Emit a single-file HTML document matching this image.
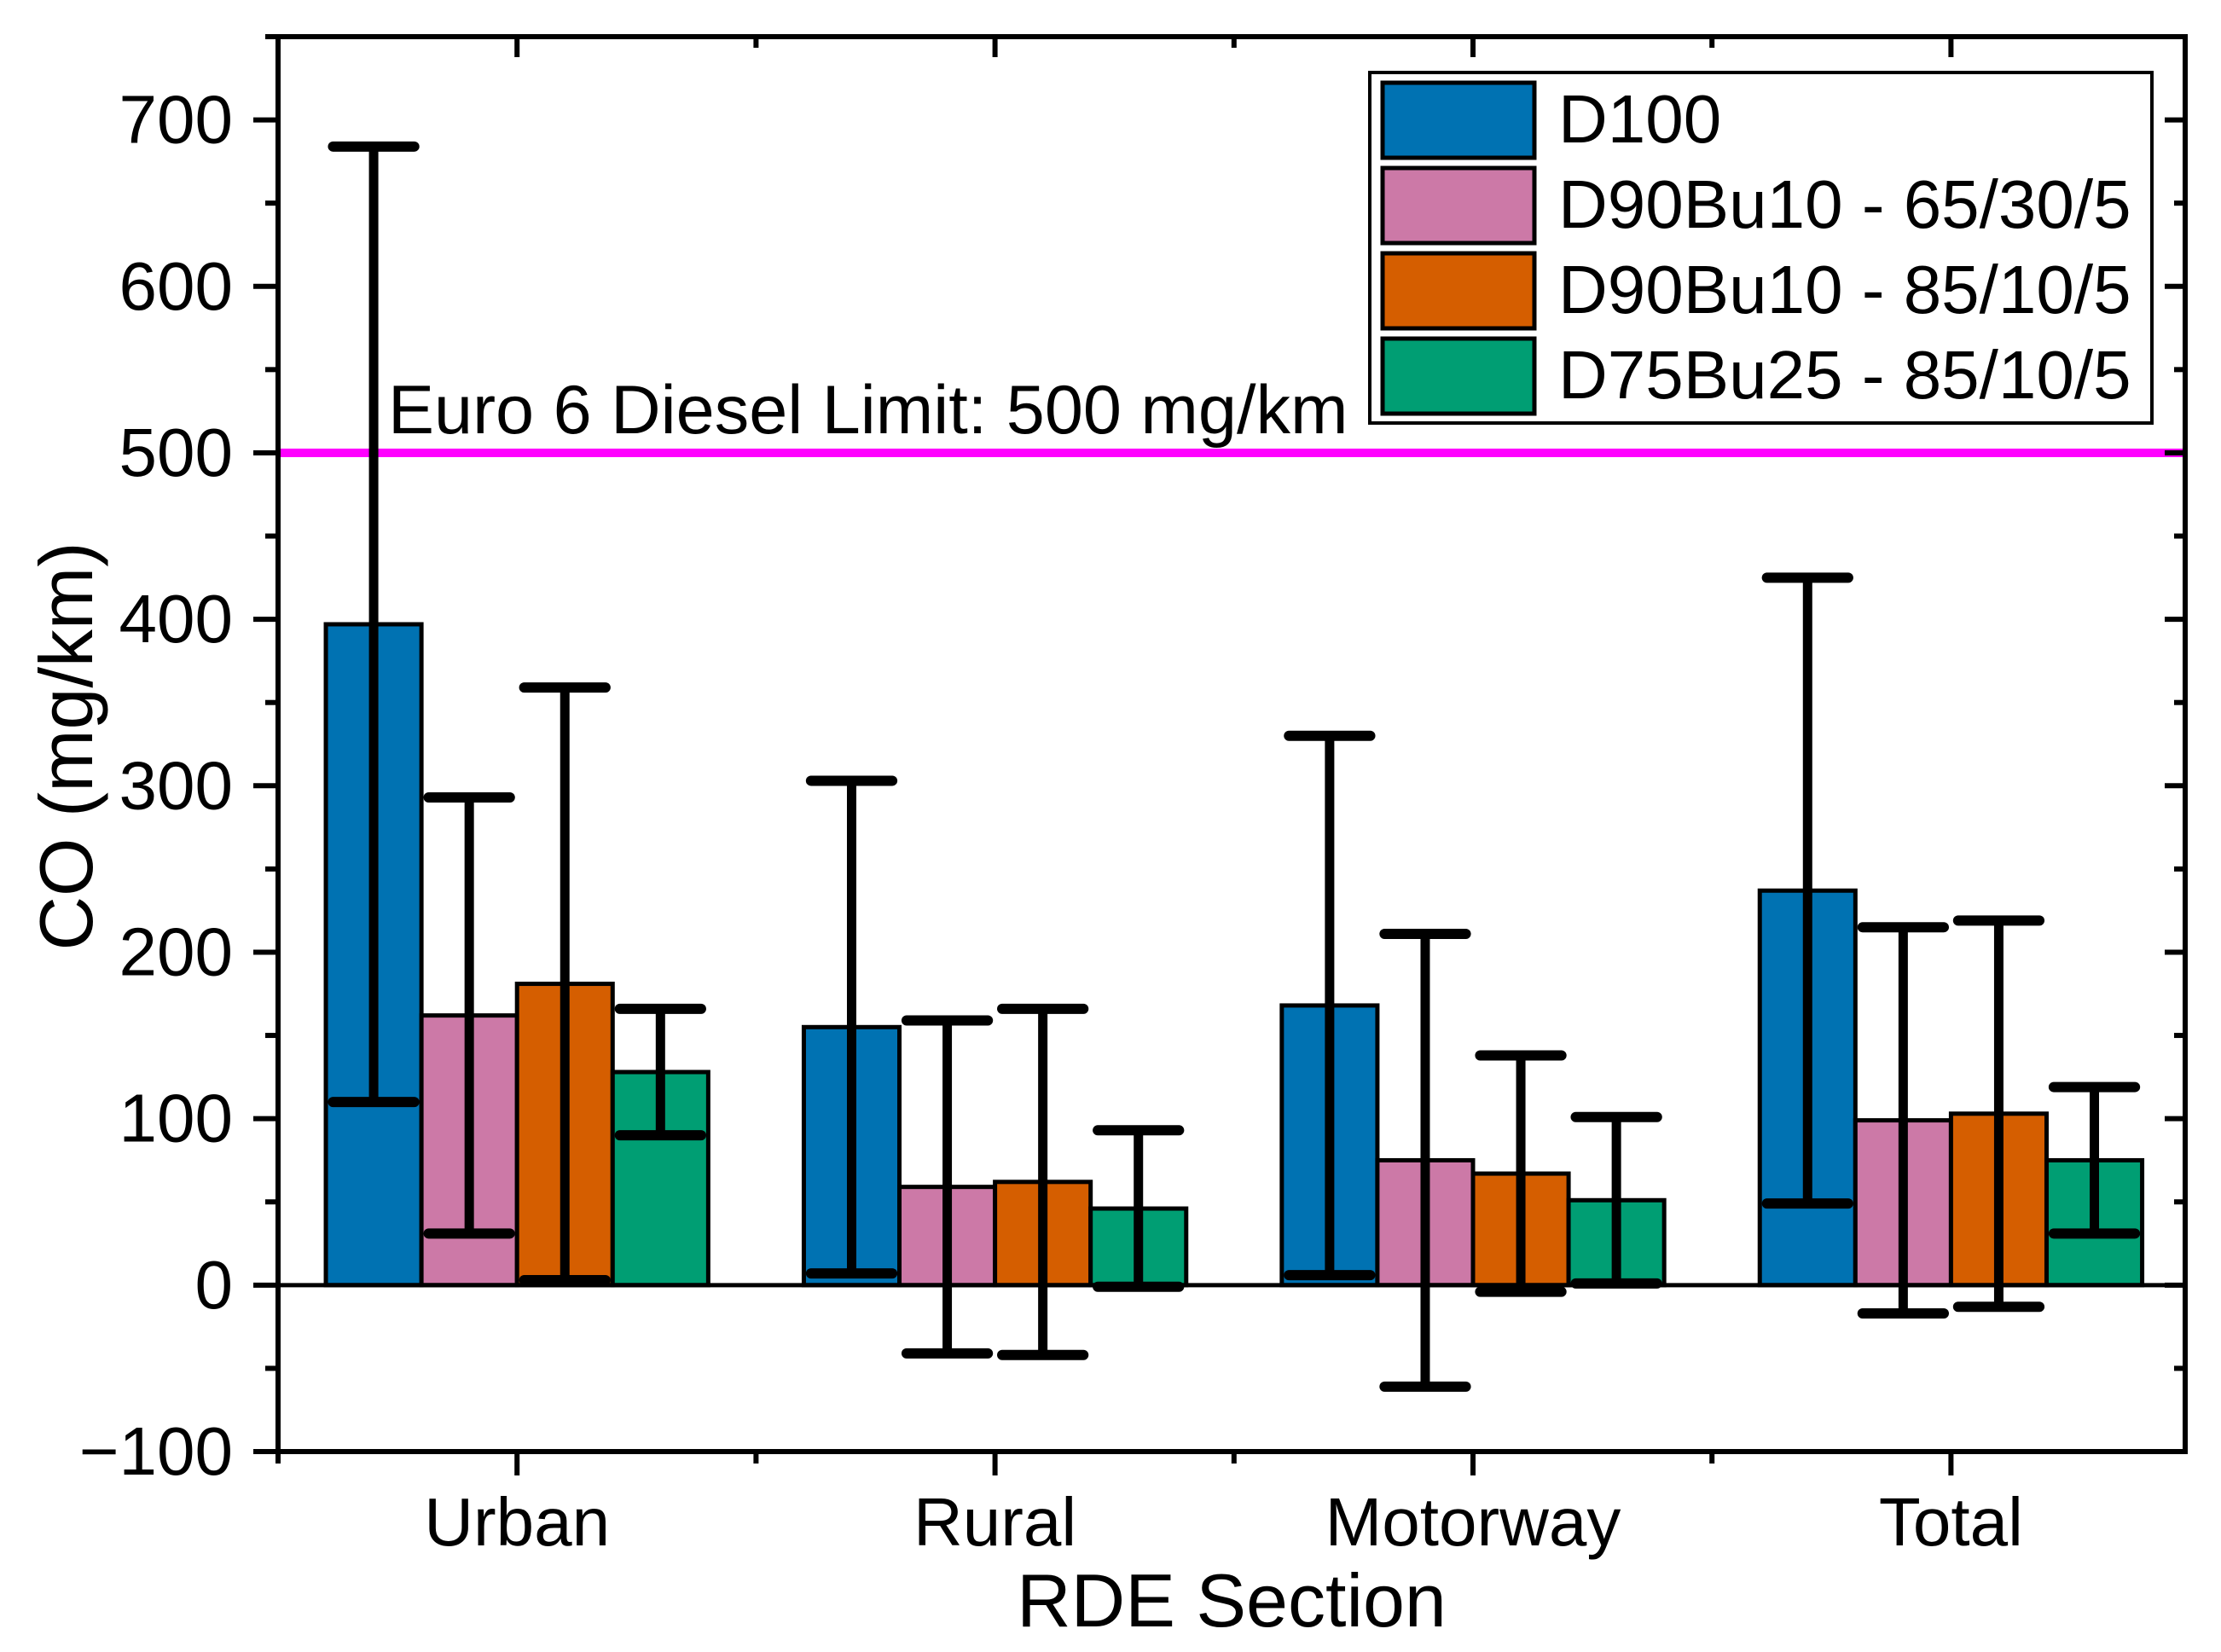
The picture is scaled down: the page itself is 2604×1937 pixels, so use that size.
<!DOCTYPE html>
<html><head><meta charset="utf-8"><style>
html,body{margin:0;padding:0;background:#fff}
svg{display:block;font-family:"Liberation Sans",Arial,sans-serif}
</style></head><body>
<svg id="chart" width="2604" height="1937" viewBox="0 0 2604 1937" xmlns="http://www.w3.org/2000/svg">
<rect width="2604" height="1937" fill="#fff"/>
<g id="bars"></g>
<g id="limit"></g>
<g id="errs"></g>
<g id="axes"></g>
<g id="legend"></g>
</svg>
<script>
const categories = ["Urban","Rural","Motorway","Total"];
const seriesNames = ["D100","D90Bu10 - 65/30/5","D90Bu10 - 85/10/5","D75Bu25 - 85/10/5"];
const seriesColors = ["#0072b2","#cc79a7","#d55e00","#009e73"];
const d100 = [397,155,168,237];
const d90a = [162,59,75,99];
const d90b = [181,62,67,103];
const d75 = [128,46,51,75];
const d100Err = [287,148,162,188];
const d90aErr = [131,100,136,116];
const d90bErr = [178,104,71,116];
const d75Err = [38,47,50,44];
const yTicks = [-100,0,100,200,300,400,500,600,700];
const limitValue = 500;

const values = [d100,d90a,d90b,d75];
const errors = [d100Err,d90aErr,d90bErr,d75Err];
const NS = "http://www.w3.org/2000/svg";
const L=326,R=2562,T=43,B=1702;
const yMin=-100,yMax=750,xMin=0.5,xMax=4.49;
function ys(v){return B-(v-yMin)/(yMax-yMin)*(B-T);}
function xs(v){return L+(v-xMin)/(xMax-xMin)*(R-L);}
function mk(tag,attrs,parent){const e=document.createElementNS(NS,tag);for(const k in attrs)e.setAttribute(k,attrs[k]);parent.appendChild(e);return e;}
const gb=document.getElementById('bars'),ge=document.getElementById('errs'),ga=document.getElementById('axes'),gl=document.getElementById('legend'),glim=document.getElementById('limit');
const bw=0.2;
for(let s=0;s<4;s++){
  for(let c=0;c<4;c++){
    const cx=(c+1)+(s-1.5)*bw;
    const v=values[s][c];
    const x0=xs(cx-bw/2),x1=xs(cx+bw/2);
    const r=mk('rect',{x:x0,y:Math.min(ys(v),ys(0)),width:x1-x0,height:Math.abs(ys(0)-ys(v)),fill:seriesColors[s],stroke:'#000','stroke-width':5},gb);
    
    
    const e=errors[s][c],px=xs(cx),hw=(xs(1)-xs(0))*0.085;
    const g=mk('g',{stroke:'#000','stroke-width':12,'stroke-linecap':'round'},ge);
    
    
    mk('line',{x1:px,x2:px,y1:ys(v+e),y2:ys(v-e),'stroke-linecap':'butt','stroke-width':11},g);
    mk('line',{x1:px-hw,x2:px+hw,y1:ys(v+e),y2:ys(v+e)},g);
    mk('line',{x1:px-hw,x2:px+hw,y1:ys(v-e),y2:ys(v-e)},g);
  }
}
const lim=mk('line',{x1:L,x2:R,y1:ys(limitValue),y2:ys(limitValue),stroke:'#ff00ff','stroke-width':10},glim);


const lt=mk('text',{x:455,y:508,'font-size':81},glim);lt.textContent='Euro 6 Diesel Limit: 500 mg/km';


const zl=mk('line',{x1:L,x2:R,y1:ys(0),y2:ys(0),stroke:'#000','stroke-width':5},ga);


const fr=mk('rect',{x:L,y:T,width:R-L,height:B-T,fill:'none',stroke:'#000','stroke-width':6},ga);


for(let v=-100;v<=750;v+=50){
  const major=(v%100===0);const y=ys(v);
  mk('line',{x1:L-(major?29:15),x2:L,y1:y,y2:y,stroke:'#000','stroke-width':6},ga);
  mk('line',{x1:R,x2:R-(major?24:13),y1:y,y2:y,stroke:'#000','stroke-width':6},ga);
}
yTicks.forEach(v=>{
  const t=mk('text',{x:273,y:ys(v)+27,'font-size':80,'text-anchor':'end'},ga);
  t.textContent=(v<0?'\u2212'+(-v):String(v));
  
  
});
for(let i=0;i<4;i++){
  const x=xs(i+1);
  mk('line',{x1:x,x2:x,y1:B,y2:B+28,stroke:'#000','stroke-width':6},ga);
  mk('line',{x1:x,x2:x,y1:T,y2:T+24,stroke:'#000','stroke-width':6},ga);
  const xm=xs(i+0.5);
  mk('line',{x1:xm,x2:xm,y1:B,y2:B+14,stroke:'#000','stroke-width':6},ga);
  mk('line',{x1:xm,x2:xm,y1:T,y2:T+13,stroke:'#000','stroke-width':6},ga);
  const t=mk('text',{x:x,y:1812,'font-size':80,'text-anchor':'middle'},ga);t.textContent=categories[i];
  
  
}
const xt=mk('text',{x:(L+R)/2,y:1907,'font-size':88,'text-anchor':'middle'},ga);xt.textContent='RDE Section';


const yt=mk('text',{x:0,y:0,'font-size':88,'text-anchor':'middle',transform:'translate(108,875) rotate(-90)'},ga);yt.textContent='CO (mg/km)';


const lb=mk('rect',{x:1606,y:85,width:917,height:411,fill:'#fff',stroke:'#000','stroke-width':4},gl);


for(let s=0;s<4;s++){
  const g=mk('g',{},gl);
  
  
  const y0=95+s*100;
  mk('rect',{x:1621,y:y0+2,width:178,height:88,fill:seriesColors[s],stroke:'#000','stroke-width':5},g);
  const t=mk('text',{x:1827,y:y0+72,'font-size':80},g);t.textContent=seriesNames[s];
}
</script>
</body></html>
